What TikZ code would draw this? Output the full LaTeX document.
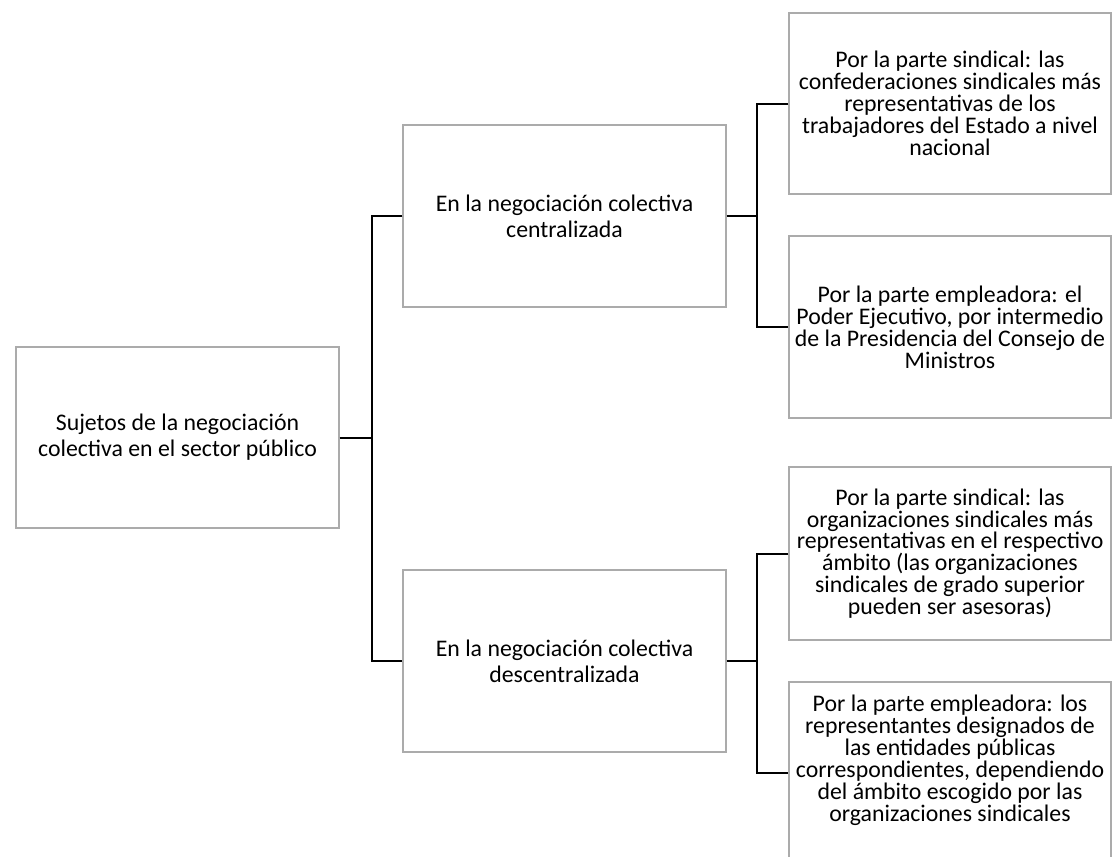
\documentclass[tikz,border=0pt]{standalone}
\usepackage{fontspec}
\setmainfont{Carlito}
\begin{document}
\begin{tikzpicture}[x=1pt,y=-1pt,
  frame/.style={draw=black!33, line width=1.4pt, fill=white, rectangle,
    inner sep=0pt},
  box/.style={frame, align=center},
  loose/.style={font=\fontsize{23.8pt}{26pt}\selectfont},
  tight/.style={font=\fontsize{23.8pt}{21.9pt}\selectfont},
  wide/.style={minimum width=323pt},
  narrow/.style={minimum width=322pt},
  link/.style={draw=black, line width=2pt}]
\useasboundingbox (0,0) rectangle (1112,857);
\clip (0,0) rectangle (1112,857);
\fill[white] (0,0) rectangle (1112,857);

% root and second level
\node[box, loose, wide, minimum height=181pt] (root) at (177.5,437.5)
  {Sujetos de la negociación\\colectiva en el sector público};
\node[box, loose, wide, minimum height=182pt] (cent) at (564.5,216)
  {En la negociación colectiva\\centralizada};
\node[box, loose, wide, minimum height=182pt] (desc) at (564.5,661)
  {En la negociación colectiva\\descentralizada};

% third level
\node[box, tight, narrow, minimum height=181pt] (sindA) at (950,103.5)
  {Por la parte sindical: las\\confederaciones sindicales más\\representativas de los\\trabajadores del Estado a nivel\\nacional};
\node[box, tight, narrow, minimum height=182pt] (empA) at (950,327)
  {Por la parte empleadora: el\\Poder Ejecutivo, por intermedio\\de la Presidencia del Consejo de\\Ministros};
\node[box, tight, narrow, minimum height=173pt] (sindB) at (950,553.5)
  {Por la parte sindical: las\\organizaciones sindicales más\\representativas en el respectivo\\ámbito (las organizaciones\\sindicales de grado superior\\pueden ser asesoras)};
\node[frame, narrow, minimum height=181pt] (empB) at (950,772.5) {};
\node[align=center, inner sep=0pt, tight] (empBtext) at (950,760.5)
  {Por la parte empleadora: los\\representantes designados de\\las entidades públicas\\correspondientes, dependiendo\\del ámbito escogido por las\\organizaciones sindicales};

% junction points of the trunks
\coordinate (j1) at (372,437.5);
\coordinate (j2) at (757,216);
\coordinate (j3) at (757,661);

% connectors
\draw[link] (root.east) -- (j1);
\draw[link] (cent.west) -| (j1) |- (desc.west);
\draw[link] (cent.east) -- (j2);
\draw[link] (sindA.west) -| (j2) |- (empA.west);
\draw[link] (desc.east) -- (j3);
\draw[link] (sindB.west) -| (j3) |- (empB.west);
\end{tikzpicture}
\end{document}
